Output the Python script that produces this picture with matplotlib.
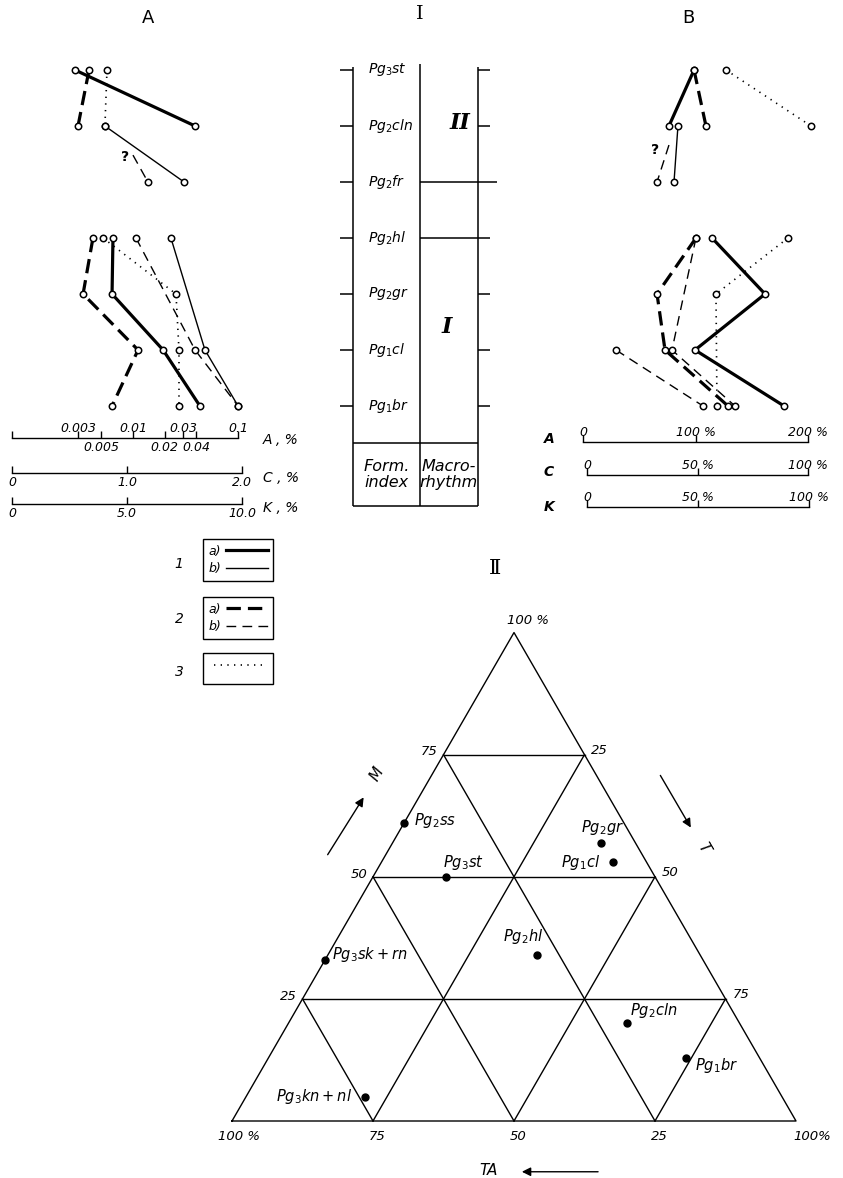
import numpy as np
import matplotlib
matplotlib.use("Agg")
import matplotlib.pyplot as plt
from matplotlib.lines import Line2D

plt.rcParams["font.family"] = ["DejaVu Sans"]
plt.rcParams["mathtext.fontset"] = "dejavusans"

W, H = 843, 1178

# stratigraphic units, level 0 (bottom) .. level 6 (top)
stages = [r"$Pg_1br$", r"$Pg_1cl$", r"$Pg_2gr$", r"$Pg_2hl$",
          r"$Pg_2fr$", r"$Pg_2cln$", r"$Pg_3st$"]

# ---- panel A, values read on the K,% scale (0-10) ----
a_top_lev = [6, 5]
a_top_1a = [2.74, 7.96]
a_top_2a = [3.35, 2.87]
a_top_3 = [4.13, 4.04]
a_fr_lev = [5, 4]
a_fr_1b = [4.04, 7.48]
a_q_lev = [4.48, 4.0]
a_q_2b = [5.26, 5.91]
a_low_lev = [3, 2, 1, 0]
a_low_1a = [4.39, 4.35, 6.57, 8.17]
a_low_2a = [3.52, 3.09, 5.48, 4.35]
a_low_3 = [3.96, 7.13, 7.26, 7.26]
a_low_lev_b = [3, 1, 0]
a_low_1b = [6.91, 8.39, 9.83]
a_low_2b = [5.39, 7.96, 9.83]

# ---- panel B, values read on the A,% scale (0-200) ----
b_top_1a = [98.7, 76.4]
b_top_2a = [98.7, 109.3]
b_top_3 = [127.1, 202.7]
b_fr_1b = [84.4, 80.9]
b_q_lev = [4.66, 4.0]
b_q_2b = [76.4, 65.8]
b_low_1a = [114.7, 161.8, 99.6, 178.7]
b_low_2a = [100.4, 65.8, 72.9, 128.9]
b_low_2b = [100.4, 79.1, 135.1]
b_low2_lev = [1, 0]
b_low2_2b = [29.3, 106.7]
b_low_lev_3 = [3, 2, 0]
b_low_3 = [182.2, 118.2, 119.1]

# scale bars
a_ticks_top = [0.003, 0.01, 0.03, 0.1]
a_ticks_bot = [0.005, 0.02, 0.04]
c_ticks = [0, 1, 2]
c_labels = ["0", "1.0", "2.0"]
k_ticks = [0, 5, 10]
k_labels = ["0", "5.0", "10.0"]
bA_ticks = [0, 100, 200]
bA_labels = ["0", "100 %", "200 %"]
bCK_ticks = [0, 50, 100]
bCK_labels = ["0", "50 %", "100 %"]

# ---- ternary diagram II (percent) ----
tri_names = [r"$Pg_2ss$", r"$Pg_3st$", r"$Pg_2gr$", r"$Pg_1cl$", r"$Pg_2hl$",
             r"$Pg_3sk+rn$", r"$Pg_2cln$", r"$Pg_1br$", r"$Pg_3kn+nl$"]
tri_m = [61, 50, 57, 53, 34, 33, 20, 13, 5]
tri_t = [0, 13, 37, 41, 37, 0, 60, 74, 21]
tri_grid = [25, 50, 75]

STY = {
    "1a": dict(color="k", lw=2.3, ls="-"),
    "1b": dict(color="k", lw=1.0, ls="-"),
    "2a": dict(color="k", lw=2.3, ls=(0, (4.5, 2.2))),
    "2b": dict(color="k", lw=1.0, ls=(0, (7, 4.5))),
    "3": dict(color="k", lw=1.2, ls=(0, (0.8, 3.2))),
}
MK = dict(marker="o", ms=4.6, mfc="white", mec="k", mew=1.1)
ITAL = dict(style="italic")

fig = plt.figure(figsize=(W / 100, H / 100), dpi=100)


def px_axes(x0, x1, y0, y1):
    ax = fig.add_axes([x0 / W, 1 - y1 / H, (x1 - x0) / W, (y1 - y0) / H])
    ax.set_axis_off()
    return ax


LEV0, LEV_STEP = 406, 56  # pixel row of level 0, pixels per level


def level_lim(ax, y0, y1):
    ax.set_ylim((LEV0 - y1) / LEV_STEP, (LEV0 - y0) / LEV_STEP)


def ftext(x, y, s, **kw):
    fig.text(x / W, 1 - y / H, s, **kw)


def series(ax, x, lev, key, every=None):
    ax.plot(x, lev, **STY[key], **MK, markevery=every, clip_on=False, zorder=3)


def scale_bar(x0, x1, y, lim, ticks, labels, top=False, log=False,
              minor=None, minor_labels=None):
    ax = fig.add_axes([x0 / W, 1 - y / H, (x1 - x0) / W, 1e-4])
    if log:
        ax.set_xscale("log")
    ax.set_xlim(*lim)
    for s in ("left", "right", "top"):
        ax.spines[s].set_visible(False)
    ax.spines["bottom"].set_linewidth(1.0)
    ax.patch.set_visible(False)
    ax.set_yticks([])
    ax.set_xticks(ticks)
    ax.set_xticklabels(labels, fontsize=9, **ITAL)
    ax.tick_params(axis="x", which="major", direction="in", length=5, width=1,
                   top=False, bottom=True, labeltop=top, labelbottom=not top, pad=2)
    if minor is not None:
        ax.set_xticks(minor, minor=True)
        ax.set_xticklabels(minor_labels, minor=True, fontsize=9, **ITAL)
        ax.tick_params(axis="x", which="minor", direction="in", length=5, width=1,
                       top=False, bottom=True, labeltop=False, labelbottom=True, pad=2)
    return ax


# ================= panel A =================
A_X0, A_PX = 12, 23
axA = px_axes(0, 300, 40, 430)
axA.set_xlim(-A_X0 / A_PX, (300 - A_X0) / A_PX)
level_lim(axA, 40, 430)
series(axA, a_top_1a, a_top_lev, "1a")
series(axA, a_top_2a, a_top_lev, "2a")
series(axA, a_top_3, a_top_lev, "3")
series(axA, a_fr_1b, a_fr_lev, "1b")
series(axA, a_q_2b, a_q_lev, "2b", every=[1])
axA.text(4.91, 4.45, "?", fontsize=10, weight="bold", ha="center", va="center")
series(axA, a_low_1a, a_low_lev, "1a")
series(axA, a_low_2a, a_low_lev, "2a")
series(axA, a_low_3, a_low_lev, "3")
series(axA, a_low_1b, a_low_lev_b, "1b")
series(axA, a_low_2b, a_low_lev_b, "2b")

a_lo = 0.003 * 10 ** (-(78 - 12) / (160 / np.log10(0.1 / 0.003)))
scale_bar(12, 238, 438, (a_lo, 0.1), a_ticks_top, [str(v) for v in a_ticks_top],
          top=True, log=True, minor=[a_lo] + a_ticks_bot,
          minor_labels=[""] + [str(v) for v in a_ticks_bot])
scale_bar(12, 242, 473, (0, 2), c_ticks, c_labels)
scale_bar(12, 242, 504, (0, 10), k_ticks, k_labels)
ftext(263, 440, "A , %", fontsize=10, va="center", **ITAL)
ftext(263, 478, "C , %", fontsize=10, va="center", **ITAL)
ftext(263, 508, "K , %", fontsize=10, va="center", **ITAL)

# legend boxes
def legend_box(handles, labels, ypx, hl, hh=0.7):
    lg = fig.legend(handles, labels, loc="upper left",
                    bbox_to_anchor=(203 / W, 1 - ypx / H), borderaxespad=0,
                    frameon=True, fancybox=False, edgecolor="k", framealpha=1,
                    markerfirst=False, handlelength=hl, handleheight=hh,
                    handletextpad=0.4, borderpad=0.45, labelspacing=0.35,
                    prop=dict(style="italic", size=9))
    lg.get_frame().set_linewidth(1.0)


legend_box([Line2D([], [], **STY["1a"]), Line2D([], [], **STY["1b"])],
           ["a)", "b)"], 539, 3.3)
legend_box([Line2D([], [], **STY["2a"]), Line2D([], [], **STY["2b"])],
           ["a)", "b)"], 597, 3.3)
legend_box([Line2D([], [], **STY["3"])], [""], 653, 4.3, hh=2.0)
for num, y in zip(["1", "2", "3"], [564, 619, 672]):
    ftext(179, y, num, fontsize=10, ha="center", va="center", **ITAL)

# ================= column I =================
axC = px_axes(300, 520, 40, 560)
axC.set_xlim(300, 520)
level_lim(axC, 40, 560)
COL_L, COL_M, COL_R = 353, 420, 478
COL_TOP, BOX_TOP, BOX_BOT = 6.05, -0.66, -1.79
lev = np.arange(len(stages))
axC.vlines([COL_L, COL_R], BOX_BOT, COL_TOP, color="k", lw=1.1)
axC.vlines(COL_M, BOX_BOT, COL_TOP + 0.05, color="k", lw=1.1)
axC.hlines([BOX_TOP, BOX_BOT], COL_L, COL_R, color="k", lw=1.1)
axC.hlines(lev, COL_L - 13, COL_L, color="k", lw=1.1)
axC.hlines([6, 5, 3, 2, 1, 0], COL_R, COL_R + 12, color="k", lw=1.1)
axC.hlines(4, COL_M, COL_R + 19, color="k", lw=1.1)
axC.hlines(3, COL_M, COL_R, color="k", lw=1.1)
for s, l in zip(stages, lev):
    axC.text(368, l, s, fontsize=10, va="center", ha="left")
axC.text(460, 5.05, "II", fontsize=16, family="DejaVu Serif", style="italic",
         weight="bold", ha="center", va="center")
axC.text(447, 1.41, "I", fontsize=16, family="DejaVu Serif", style="italic",
         weight="bold", ha="center", va="center")
axC.text((COL_L + COL_M) / 2, (BOX_TOP + BOX_BOT) / 2, "Form.\nindex",
         fontsize=11.5, ha="center", va="center", linespacing=1.1, **ITAL)
axC.text((COL_M + COL_R) / 2, (BOX_TOP + BOX_BOT) / 2, "Macro-\nrhythm",
         fontsize=11.5, ha="center", va="center", linespacing=1.1, **ITAL)

# ================= panel B =================
B_X0, B_PX = 583, 225 / 200
axB = px_axes(520, 843, 40, 430)
axB.set_xlim((520 - B_X0) / B_PX, (843 - B_X0) / B_PX)
level_lim(axB, 40, 430)
series(axB, b_top_1a, a_top_lev, "1a")
series(axB, b_top_2a, a_top_lev, "2a")
series(axB, b_top_3, a_top_lev, "3")
series(axB, b_fr_1b, a_fr_lev, "1b")
series(axB, b_q_2b, b_q_lev, "2b", every=[1])
axB.text(64, 4.57, "?", fontsize=10, weight="bold", ha="center", va="center")
series(axB, b_low_1a, a_low_lev, "1a")
series(axB, b_low_2a, a_low_lev, "2a")
series(axB, b_low_2b, a_low_lev_b, "2b")
series(axB, b_low2_2b, b_low2_lev, "2b")
series(axB, b_low_3, b_low_lev_3, "3")

scale_bar(583, 808, 442, (0, 200), bA_ticks, bA_labels, top=True)
scale_bar(587, 808, 475, (0, 100), bCK_ticks, bCK_labels, top=True)
scale_bar(587, 809, 507, (0, 100), bCK_ticks, bCK_labels, top=True)
for letter, y in zip(["A", "C", "K"], [439, 472, 507]):
    ftext(549, y, letter, fontsize=10, weight="bold", ha="center", va="center", **ITAL)

# titles
ftext(148, 18, "A", fontsize=13, ha="center", va="center")
ftext(420, 14, "I", fontsize=14, family="DejaVu Serif", ha="center", va="center")
ftext(688, 18, "B", fontsize=13, ha="center", va="center")
ftext(495, 568, "Ⅱ", fontsize=15, family=["DejaVu Serif", "DejaVu Sans"],
      ha="center", va="center")

# ================= ternary diagram II =================
T_X0, T_Y0, T_S = 232, 1121, 564
axT = px_axes(200, 843, 590, 1178)
axT.set_xlim((200 - T_X0) / T_S, (843 - T_X0) / T_S)
axT.set_ylim((T_Y0 - 1178) / T_S, (T_Y0 - 590) / T_S)


def tern(m, t):
    m = np.asarray(m, float)
    t = np.asarray(t, float)
    return (t + m / 2) / 100, m * np.sqrt(3) / 2 / 100


ox, oy = tern([0, 100, 0, 0], [0, 0, 100, 0])
axT.plot(ox, oy, color="k", lw=1.0)
for v in tri_grid:
    for mm, tt in (([v, v], [0, 100 - v]),          # constant M
                   ([0, 100 - v], [v, v]),          # constant T
                   ([0, 100 - v], [100 - v, 0])):   # constant TA
        gx, gy = tern(mm, tt)
        axT.plot(gx, gy, color="k", lw=1.0)

px_, py_ = tern(tri_m, tri_t)
axT.plot(px_, py_, "o", color="k", ms=5, zorder=4)
lab_off = [(7, 1.5, "left"), (12, 10, "center"), (1, 11, "center"),
           (-9, 0, "right"), (-10, 13, "center"), (5, 4, "left"),
           (2, 9, "left"), (6.5, -6, "left"), (-9, 0, "right")]
for name, x, y, (dx, dy, ha) in zip(tri_names, px_, py_, lab_off):
    axT.annotate(name, (x, y), xytext=(dx, dy), textcoords="offset points",
                 ha=ha, va="center", fontsize=10.5)

NUM = dict(fontsize=9.5, textcoords="offset points", **ITAL)
for v in tri_grid:
    axT.annotate(str(v), tern(v, 0), xytext=(-4, 2), ha="right", va="center", **NUM)
    axT.annotate(str(v), tern(100 - v, v), xytext=(5, 3), ha="left", va="center", **NUM)
    axT.annotate(str(100 - v), tern(0, v), xytext=(3, -11), ha="center", va="center", **NUM)
axT.annotate("100 %", tern(100, 0), xytext=(-5, 9), ha="left", va="center", **NUM)
axT.annotate("100 %", tern(0, 0), xytext=(5, -11), ha="center", va="center", **NUM)
axT.annotate("100%", tern(0, 100), xytext=(-2, -11), ha="left", va="center", **NUM)

ARW = dict(arrowstyle="-|>", color="k", lw=1.0, mutation_scale=13)
axT.annotate("", xy=(0.236, 0.578), xytext=(0.167, 0.468), arrowprops=ARW)
axT.text(0.257, 0.616, "M", rotation=60, fontsize=11, ha="center", va="center", **ITAL)
axT.annotate("", xy=(0.816, 0.516), xytext=(0.757, 0.617), arrowprops=ARW)
axT.text(0.837, 0.484, "T", rotation=-60, fontsize=11, ha="center", va="center", **ITAL)
axT.annotate("", xy=(0.509, -0.090), xytext=(0.654, -0.090), arrowprops=ARW)
axT.text(0.454, -0.087, "TA", fontsize=11, ha="center", va="center", **ITAL)

fig.savefig("out.png", dpi=100, facecolor="white")
